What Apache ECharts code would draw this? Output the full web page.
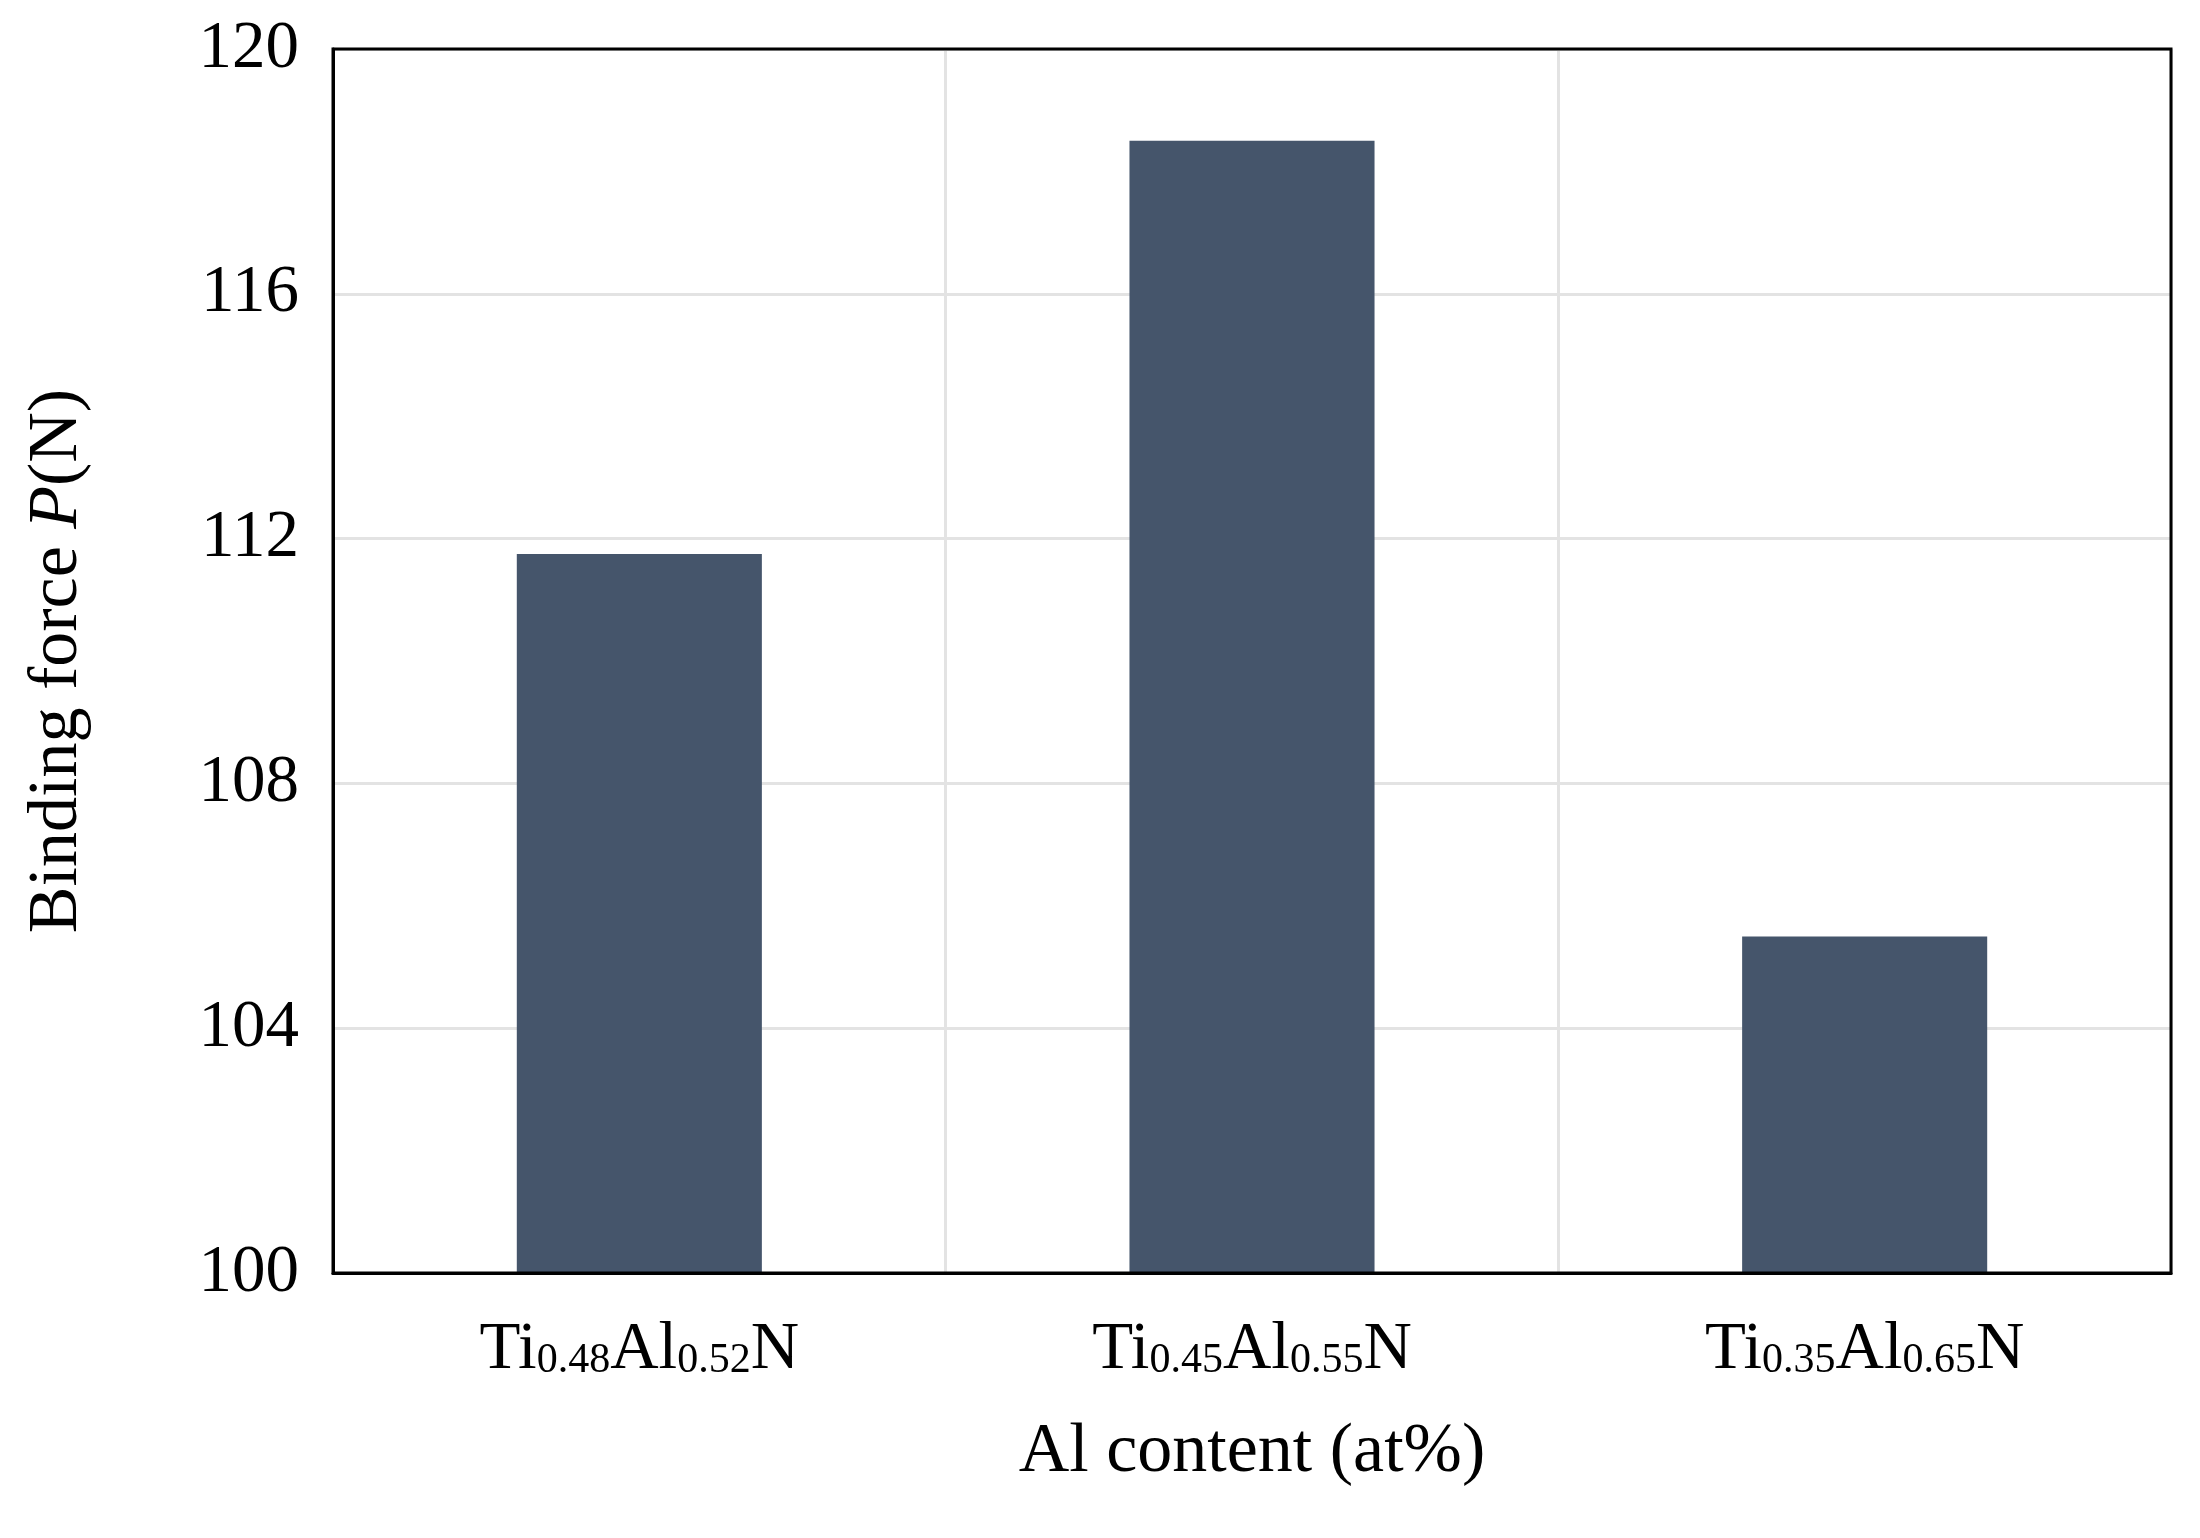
<!DOCTYPE html>
<html>
<head>
<meta charset="utf-8">
<script src="https://cdn.jsdelivr.net/npm/echarts@6/dist/echarts.min.js"></script>
<style>html,body{margin:0;padding:0;background:#fff}#chart{width:2200px;height:1538px}</style>
</head>
<body>
<div id="chart"></div>
<script>
// Ti / Al subscripts for each coating
const tiSub = ['0.48', '0.45', '0.35'];
const alSub = ['0.52', '0.55', '0.65'];
const bindingForce = [111.75, 118.5, 105.5];
const yTicks = [100, 104, 108, 112, 116, 120];

const categories = tiSub.map((t, i) => i);
const font = 'Liberation Serif';

let chart = echarts.init(document.getElementById('chart'));

chart.setOption({
  animation: false,
  grid: { left: 333, right: 29, top: 49, bottom: 265 },
  xAxis: {
    type: 'category',
    data: categories,
    name: 'Al content (at%)',
    nameLocation: 'middle',
    nameGap: 145,
    nameTextStyle: { fontFamily: font, fontSize: 70, color: '#000' },
    axisLine: { lineStyle: { color: '#000', width: 3 } },
    axisTick: { show: false },
    splitLine: { show: true, lineStyle: { color: '#e3e3e3', width: 3 } },
    axisLabel: {
      margin: 44,
      formatter: (v) => '{b|Ti}{s|' + tiSub[v] + '}{b|Al}{s|' + alSub[v] + '}{b|N}',
      rich: {
        b: { fontFamily: font, fontSize: 67, color: '#000' },
        s: { fontFamily: font, fontSize: 42, color: '#000', padding: [20, 0, 0, 0] }
      }
    }
  },
  yAxis: {
    type: 'value',
    min: yTicks[0],
    max: yTicks[yTicks.length - 1],
    interval: 4,
    name: '{n|Binding force }{i|P}{n|(N)}',
    nameLocation: 'middle',
    nameGap: 240,
    nameTextStyle: {
      rich: {
        n: { fontFamily: font, fontSize: 70, color: '#000' },
        i: { fontFamily: font, fontSize: 70, color: '#000', fontStyle: 'italic' }
      }
    },
    axisLine: { show: true, lineStyle: { color: '#000', width: 3 } },
    axisTick: { show: false },
    splitLine: { show: true, lineStyle: { color: '#e3e3e3', width: 3 } },
    axisLabel: { margin: 34, fontFamily: font, fontSize: 67, color: '#000' }
  },
  graphic: [{
    type: 'rect',
    shape: { x: 333, y: 49, width: 1838, height: 1224 },
    style: { fill: 'none', stroke: '#000', lineWidth: 3 },
    z: 100
  }],
  series: [{
    type: 'bar',
    data: bindingForce,
    barWidth: '40%',
    itemStyle: { color: '#45556b' }
  }]
});
</script>
</body>
</html>
